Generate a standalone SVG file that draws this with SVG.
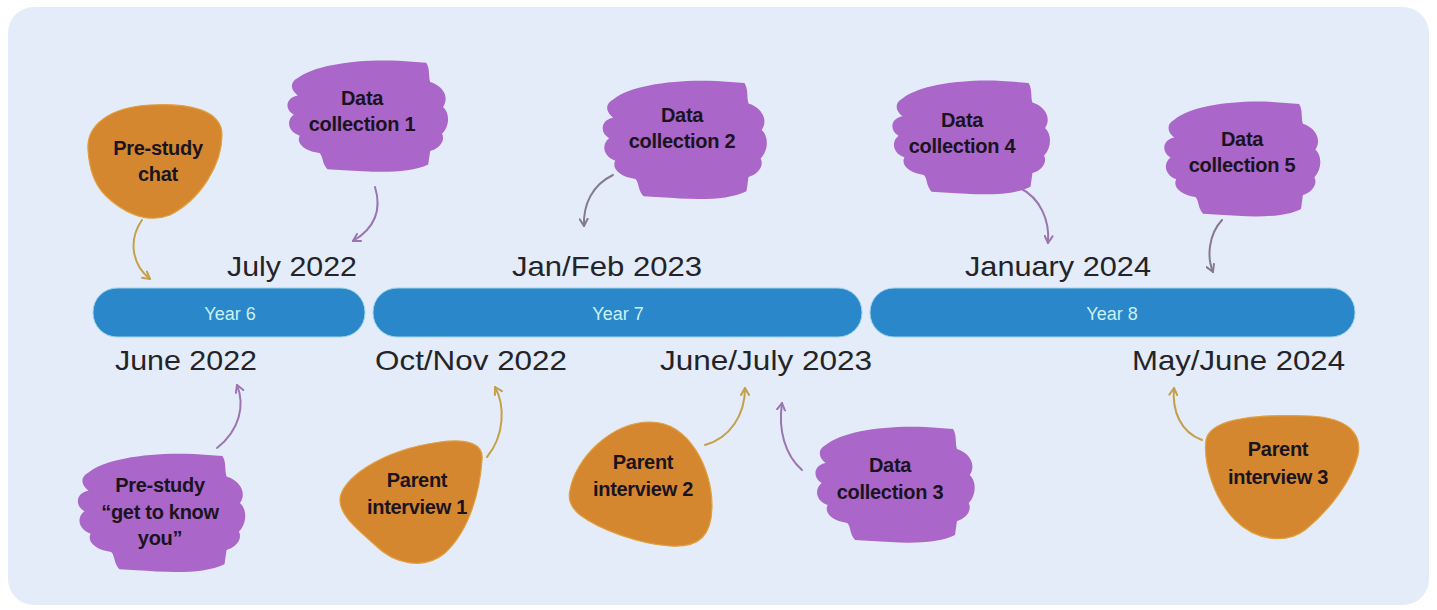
<svg xmlns="http://www.w3.org/2000/svg" xmlns:xlink="http://www.w3.org/1999/xlink" width="1437" height="610" viewBox="0 0 1437 610">
<style>
.panel{fill:#e3ecf8}
.bar{fill:#2a87c9;stroke:#9fd6ec;stroke-width:1}
.year{font-family:"Liberation Sans",Arial,sans-serif;font-size:18px;fill:#c9f1f4;text-anchor:middle}
.date{font-family:"Liberation Sans",Arial,sans-serif;font-size:28px;fill:#242428}
.lbl{font-family:"Liberation Sans",Arial,sans-serif;font-size:20px;font-weight:bold;fill:#1a1420;text-anchor:middle;letter-spacing:-0.3px}
.orange{fill:#d4872f;stroke:#e0a040;stroke-width:1.2}
.purple{fill:#aa66c9}
.conn path{fill:none;stroke-width:2;stroke-linecap:round}
.c-or{stroke:#c4a04a}
.c-pu{stroke:#9c74b0}
.c-gr{stroke:#857a8e}
</style>
<defs>
<path id="brush" d="M 18,22 C 35,8 80,2 120,4 L 148,6 C 152,12 150,20 152,26 C 165,30 172,42 165,52 C 172,58 172,72 164,80 C 168,88 160,96 152,98 L 150,112 C 130,122 95,120 65,118 L 48,117 C 42,110 44,104 40,100 C 25,98 16,90 20,82 C 8,78 6,66 14,60 C 4,54 6,42 18,40 C 10,34 10,26 18,22 Z"/>
<marker id="ah-or" viewBox="0 0 10 10" refX="8" refY="5" markerWidth="5" markerHeight="5" orient="auto" markerUnits="strokeWidth"><path d="M1,1 L8,5 L1,9" fill="none" stroke="#c4a04a" stroke-width="2" stroke-linecap="round" stroke-linejoin="round"/></marker>
<marker id="ah-pu" viewBox="0 0 10 10" refX="8" refY="5" markerWidth="5" markerHeight="5" orient="auto" markerUnits="strokeWidth"><path d="M1,1 L8,5 L1,9" fill="none" stroke="#9c74b0" stroke-width="2" stroke-linecap="round" stroke-linejoin="round"/></marker>
<marker id="ah-gr" viewBox="0 0 10 10" refX="8" refY="5" markerWidth="5" markerHeight="5" orient="auto" markerUnits="strokeWidth"><path d="M1,1 L8,5 L1,9" fill="none" stroke="#857a8e" stroke-width="2" stroke-linecap="round" stroke-linejoin="round"/></marker>
</defs>
<rect x="0" y="0" width="1437" height="610" fill="#ffffff"/>
<rect class="panel" x="8" y="7" width="1421" height="598" rx="26"/>

<g id="timeline">
<rect class="bar" x="93" y="288" width="272" height="49" rx="24"/>
<rect class="bar" x="373" y="288" width="489" height="49" rx="24"/>
<rect class="bar" x="870" y="288" width="485" height="49" rx="24"/>
<text class="year" x="230" y="320">Year 6</text>
<text class="year" x="618" y="320">Year 7</text>
<text class="year" x="1112" y="320">Year 8</text>
</g>

<g id="dates">
<text class="date" x="227" y="276" textLength="130" lengthAdjust="spacingAndGlyphs">July 2022</text>
<text class="date" x="512" y="276" textLength="190" lengthAdjust="spacingAndGlyphs">Jan/Feb 2023</text>
<text class="date" x="965" y="276" textLength="186" lengthAdjust="spacingAndGlyphs">January 2024</text>
<text class="date" x="115" y="370" textLength="142" lengthAdjust="spacingAndGlyphs">June 2022</text>
<text class="date" x="375" y="370" textLength="192" lengthAdjust="spacingAndGlyphs">Oct/Nov 2022</text>
<text class="date" x="660" y="370" textLength="212" lengthAdjust="spacingAndGlyphs">June/July 2023</text>
<text class="date" x="1132" y="370" textLength="213" lengthAdjust="spacingAndGlyphs">May/June 2024</text>
</g>

<g id="connectors" class="conn">
<path class="c-or" d="M 142,220 C 128,240 132,265 150,279" marker-end="url(#ah-or)"/>
<path class="c-pu" d="M 375,187 C 382,210 375,228 353,241" marker-end="url(#ah-pu)"/>
<path class="c-gr" d="M 613,175 C 592,185 583,205 584,226" marker-end="url(#ah-gr)"/>
<path class="c-pu" d="M 1020,188 C 1040,198 1050,220 1048,243" marker-end="url(#ah-pu)"/>
<path class="c-gr" d="M 1222,220 C 1208,235 1207,258 1213,272" marker-end="url(#ah-gr)"/>
<path class="c-pu" d="M 217,448 C 240,430 245,405 237,385" marker-end="url(#ah-pu)"/>
<path class="c-or" d="M 487,457 C 505,435 505,405 495,387" marker-end="url(#ah-or)"/>
<path class="c-or" d="M 705,445 C 730,438 745,415 745,388" marker-end="url(#ah-or)"/>
<path class="c-pu" d="M 802,470 C 785,455 778,430 782,403" marker-end="url(#ah-pu)"/>
<path class="c-or" d="M 1202,440 C 1180,432 1172,410 1174,388" marker-end="url(#ah-or)"/>
</g>

<g id="pre-study-chat">
<path class="orange" d="M 88,150 C 86,125 110,107 150,105 C 190,103 222,110 222,135 C 222,165 200,200 170,215 C 145,225 120,210 105,195 C 92,182 89,165 88,150 Z"/>
<text class="lbl" x="158" y="155">Pre-study</text>
<text class="lbl" x="158" y="181">chat</text>
</g>

<g id="data-collection-1">
<use href="#brush" class="purple" transform="translate(280,57) scale(0.988,0.96)"/>
<text class="lbl" x="362" y="105">Data</text>
<text class="lbl" x="362" y="131">collection 1</text>
</g>

<g id="data-collection-2">
<use href="#brush" class="purple" transform="translate(595,77) scale(1.01,1.02)"/>
<text class="lbl" x="682" y="122">Data</text>
<text class="lbl" x="682" y="148">collection 2</text>
</g>

<g id="data-collection-4">
<use href="#brush" class="purple" transform="translate(885,77) scale(0.97,0.98)"/>
<text class="lbl" x="962" y="127">Data</text>
<text class="lbl" x="962" y="153">collection 4</text>
</g>

<g id="data-collection-5">
<use href="#brush" class="purple" transform="translate(1157,98) scale(0.96,0.99)"/>
<text class="lbl" x="1242" y="146">Data</text>
<text class="lbl" x="1242" y="172">collection 5</text>
</g>

<g id="pre-study-get-to-know-you">
<use href="#brush" class="purple" transform="translate(70,450) scale(1.03,1.02)"/>
<text class="lbl" x="160" y="492">Pre-study</text>
<text class="lbl" x="160" y="519">“get to know</text>
<text class="lbl" x="160" y="545">you”</text>
</g>

<g id="parent-interview-1">
<path class="orange" d="M 340,500 C 340,480 380,450 440,442 C 470,438 484,445 482,460 C 480,490 470,530 445,553 C 425,570 395,565 375,545 C 355,527 340,515 340,500 Z"/>
<text class="lbl" x="417" y="487">Parent</text>
<text class="lbl" x="417" y="514">interview 1</text>
</g>

<g id="parent-interview-2">
<path class="orange" d="M 570,490 C 575,460 610,422 650,422 C 690,422 712,470 712,505 C 712,535 700,548 670,546 C 640,544 600,530 580,515 C 570,507 568,498 570,490 Z"/>
<text class="lbl" x="643" y="469">Parent</text>
<text class="lbl" x="643" y="496">interview 2</text>
</g>

<g id="data-collection-3">
<use href="#brush" class="purple" transform="translate(808,423) scale(0.98,1.0)"/>
<text class="lbl" x="890" y="472">Data</text>
<text class="lbl" x="890" y="499">collection 3</text>
</g>

<g id="parent-interview-3">
<path class="orange" d="M 1206,440 C 1210,418 1260,414 1310,416 C 1350,418 1362,435 1358,455 C 1352,480 1330,510 1305,530 C 1285,545 1255,540 1235,520 C 1215,500 1203,465 1206,440 Z"/>
<text class="lbl" x="1278" y="456">Parent</text>
<text class="lbl" x="1278" y="484">interview 3</text>
</g>
</svg>
